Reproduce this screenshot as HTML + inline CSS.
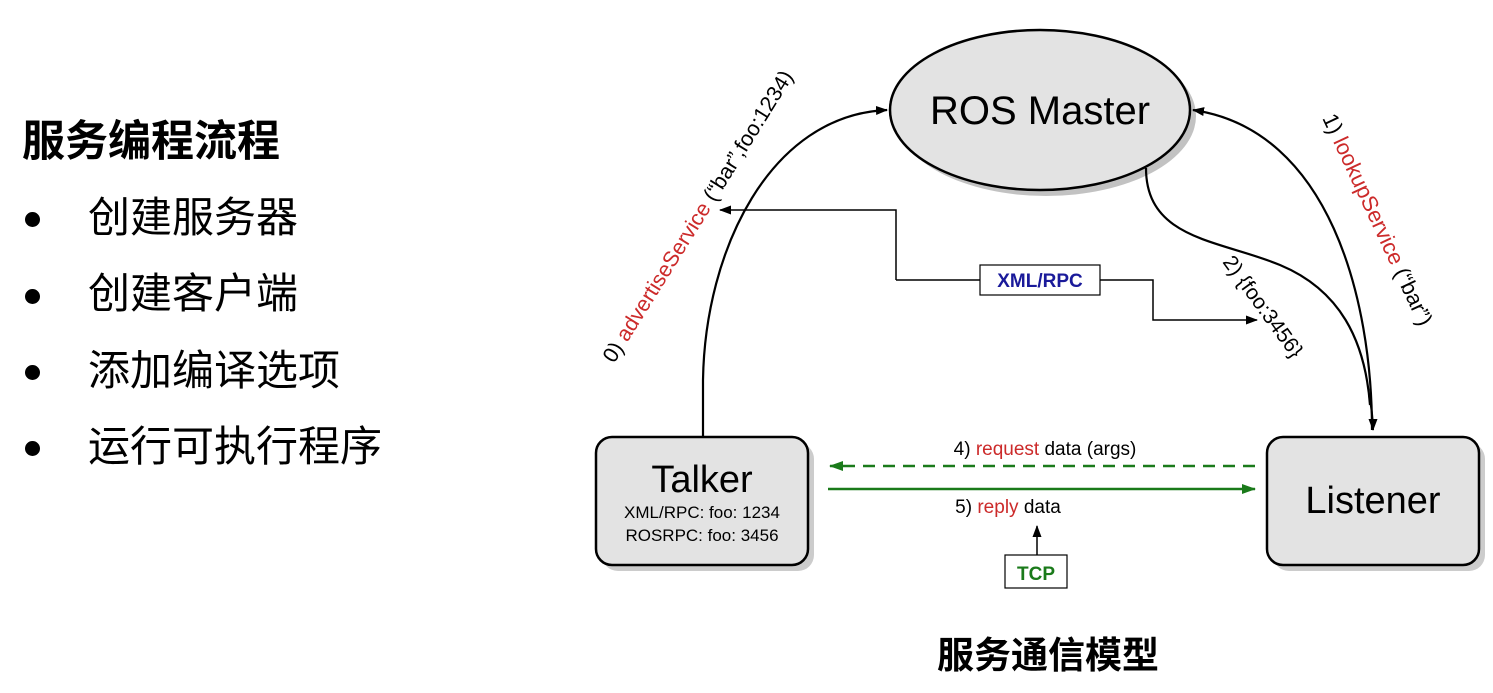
<!DOCTYPE html>
<html><head><meta charset="utf-8"><style>
body{margin:0;width:1493px;height:693px;background:#fff;position:relative;overflow:hidden;font-family:"Liberation Sans","Noto Sans CJK SC",sans-serif}
.t{position:absolute;white-space:nowrap;line-height:1}
.b{position:absolute;left:25px;width:15px;height:15px;border-radius:50%;background:#000}
</style></head><body>
<div class="t" style="left:22px;top:121px;font-size:43px;font-weight:bold">服务编程流程</div>
<div class="b" style="top:212px"></div>
<div class="t" style="left:88px;top:197px;font-size:42px">创建服务器</div>
<div class="b" style="top:289px"></div>
<div class="t" style="left:88px;top:273px;font-size:42px">创建客户端</div>
<div class="b" style="top:365px"></div>
<div class="t" style="left:88px;top:350px;font-size:42px">添加编译选项</div>
<div class="b" style="top:441px"></div>
<div class="t" style="left:88px;top:426px;font-size:42px">运行可执行程序</div>
<div class="t" style="left:937px;top:637px;font-size:37px;font-weight:bold">服务通信模型</div>

<svg width="1493" height="693" style="position:absolute;left:0;top:0" font-family="Liberation Sans, sans-serif">
<defs>
<marker id="a" markerWidth="12" markerHeight="12" refX="11" refY="6" orient="auto" markerUnits="userSpaceOnUse"><path d="M0,1.5 L12,6 L0,10.5 z" fill="#000"/></marker>
<marker id="g" markerWidth="14" markerHeight="12" refX="13" refY="6" orient="auto" markerUnits="userSpaceOnUse"><path d="M0,1 L14,6 L0,11 z" fill="#1a7a1a"/></marker>
</defs>
<ellipse cx="1046" cy="116" rx="150" ry="80" fill="#999" opacity="0.6"/>
<rect x="602" y="443" width="212" height="128" rx="16" fill="#aaa" opacity="0.6"/>
<rect x="1273" y="443" width="212" height="128" rx="16" fill="#aaa" opacity="0.6"/>
<ellipse cx="1040" cy="110" rx="150" ry="80" fill="#e3e3e3" stroke="#000" stroke-width="2.5"/>
<text x="1040" y="124" font-size="40" text-anchor="middle">ROS Master</text>
<rect x="596" y="437" width="212" height="128" rx="16" fill="#e3e3e3" stroke="#000" stroke-width="2.5"/>
<text x="702" y="492" font-size="38" text-anchor="middle">Talker</text>
<text x="702" y="518" font-size="17" text-anchor="middle">XML/RPC: foo: 1234</text>
<text x="702" y="541" font-size="17" text-anchor="middle">ROSRPC: foo: 3456</text>
<rect x="1267" y="437" width="212" height="128" rx="16" fill="#e3e3e3" stroke="#000" stroke-width="2.5"/>
<text x="1373" y="513" font-size="38" text-anchor="middle">Listener</text>
<path d="M703,437 L703,380 C705,250 770,115 887,110" fill="none" stroke="#000" stroke-width="2.2" marker-end="url(#a)"/>
<path d="M1372,430 C1372,300 1330,130 1193,110" fill="none" stroke="#000" stroke-width="2.2" marker-end="url(#a)"/>
<path d="M1369,395 C1372,410 1373,420 1373,430" fill="none" stroke="#000" stroke-width="2" marker-end="url(#a)"/>
<path d="M1146,168 C1146,240 1220,240 1280,265 C1340,290 1365,340 1370,405" fill="none" stroke="#000" stroke-width="2.2"/>
<path d="M896,280 L896,210 L720,210" fill="none" stroke="#000" stroke-width="1.5" marker-end="url(#a)"/>
<path d="M896,280 L980,280 M1100,280 L1153,280 L1153,320 L1257,320" fill="none" stroke="#000" stroke-width="1.5" marker-end="url(#a)"/>
<rect x="980" y="265" width="120" height="30" fill="#fff" stroke="#000" stroke-width="1.2"/>
<text x="1040" y="287" font-size="19" font-weight="bold" fill="#1a1a9a" text-anchor="middle">XML/RPC</text>
<line x1="1255" y1="466" x2="830" y2="466" stroke="#1a7a1a" stroke-width="2.5" stroke-dasharray="12,8" marker-end="url(#g)"/>
<line x1="828" y1="489" x2="1255" y2="489" stroke="#1a7a1a" stroke-width="2.5" marker-end="url(#g)"/>
<text x="1045" y="455" font-size="19" text-anchor="middle">4) <tspan fill="#cc2a2a">request</tspan> data (args)</text>
<text x="1008" y="513" font-size="19" text-anchor="middle">5) <tspan fill="#cc2a2a">reply</tspan> data</text>
<line x1="1037" y1="555" x2="1037" y2="526" stroke="#000" stroke-width="1.5" marker-end="url(#a)"/>
<rect x="1005" y="555" width="62" height="33" fill="#fff" stroke="#000" stroke-width="1.2"/>
<text x="1036" y="580" font-size="19" font-weight="bold" fill="#1a7a1a" text-anchor="middle">TCP</text>
<text transform="translate(614,364) rotate(-58)" font-size="21.5">0) <tspan fill="#cc2a2a">advertiseService</tspan> (“bar”,foo:1234)</text>
<text transform="translate(1322,118) rotate(65)" font-size="22">1) <tspan fill="#cc2a2a">lookupService</tspan> (“bar”)</text>
<text transform="translate(1222,262) rotate(54)" font-size="21">2) {foo:3456}</text>
</svg>
</body></html>
